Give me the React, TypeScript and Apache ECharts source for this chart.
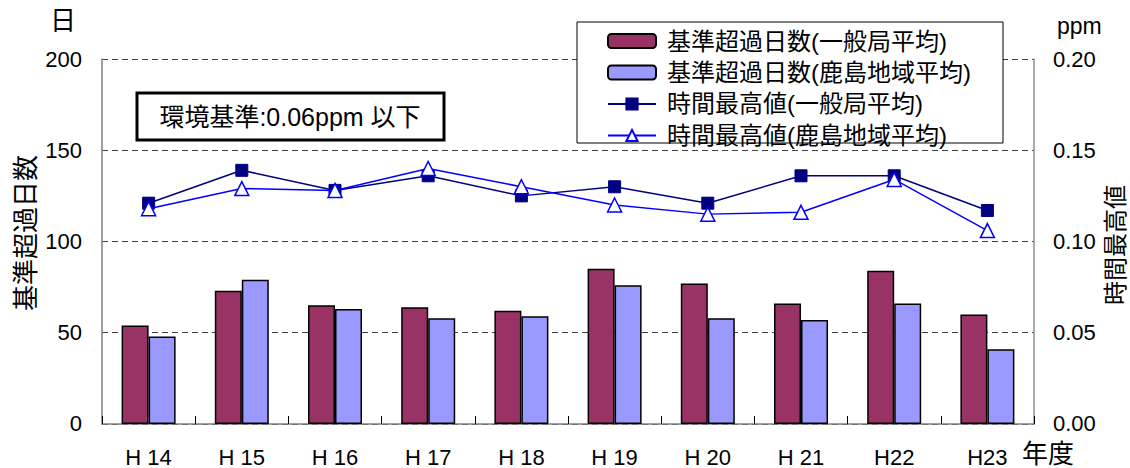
import React, { useEffect, useRef } from "react";
import * as echarts from "echarts";

const categories = ["H 14", "H 15", "H 16", "H 17", "H 18", "H 19", "H 20", "H 21", "H22", "H23"];
const daysGeneral = [54, 73, 65, 64, 62, 85, 77, 66, 84, 60];
const daysKashima = [48, 79, 63, 58, 59, 76, 58, 57, 66, 41];
const maxGeneral = [0.121, 0.139, 0.128, 0.136, 0.125, 0.130, 0.121, 0.136, 0.136, 0.117];
const maxKashima = [0.118, 0.129, 0.128, 0.140, 0.130, 0.120, 0.115, 0.116, 0.134, 0.106];
const leftTicks = { min: 0, max: 200, interval: 50 };
const rightTicks = { min: 0, max: 0.2, interval: 0.05 };

const FONT = "'Liberation Sans', 'Noto Sans CJK JP', sans-serif";

export default function App() {
  const ref = useRef<HTMLDivElement>(null);
  useEffect(() => {
    if (!ref.current) return;
    const chart = echarts.init(ref.current, undefined, { renderer: "svg" });
    chart.setOption({
      animation: false,
      textStyle: { fontFamily: FONT, color: "#000" },
      grid: { left: 102, right: 96, top: 59, bottom: 44, containLabel: false },
      legend: {
        orient: "vertical",
        left: 607,
        top: 29,
        padding: 0,
        itemWidth: 48,
        itemHeight: 14,
        itemGap: 7.5,
        z: 10,
        textStyle: { fontSize: 24, lineHeight: 22, color: "#000", fontFamily: FONT, padding: [0, 0, 0, 6] },
        data: [
          "基準超過日数(一般局平均)",
          "基準超過日数(鹿島地域平均)",
          "時間最高値(一般局平均)",
          "時間最高値(鹿島地域平均)",
        ],
      },
      xAxis: {
        type: "category",
        data: categories,
        axisLine: { show: true, lineStyle: { color: "#808080", width: 1.5 } },
        axisTick: { show: true, inside: true, length: 8, alignWithLabel: false, lineStyle: { color: "#000" } },
        axisLabel: { fontSize: 22, color: "#000", margin: 22, fontFamily: FONT },
        splitLine: { show: false },
      },
      yAxis: [
        {
          type: "value",
          min: leftTicks.min,
          max: leftTicks.max,
          interval: leftTicks.interval,
          axisLine: { show: true, lineStyle: { color: "#808080", width: 1.5 } },
          axisTick: { show: false },
          axisLabel: { fontSize: 22, color: "#000", margin: 20, fontFamily: FONT },
          splitLine: { show: true, lineStyle: { color: "#404040", type: [6, 4], width: 1 } },
        },
        {
          type: "value",
          min: rightTicks.min,
          max: rightTicks.max,
          interval: rightTicks.interval,
          axisLine: { show: true, lineStyle: { color: "#909090", width: 1.5 } },
          axisTick: { show: false },
          axisLabel: {
            fontSize: 22,
            color: "#000",
            margin: 19,
            fontFamily: FONT,
            formatter: (v: number) => v.toFixed(2),
          },
          splitLine: { show: false },
        },
      ],
      series: [
        {
          name: "基準超過日数(一般局平均)",
          type: "bar",
          data: daysGeneral,
          barWidth: 27,
          barGap: "0%",
          itemStyle: { color: "#993366", borderColor: "#000", borderWidth: 1.5 },
        },
        {
          name: "基準超過日数(鹿島地域平均)",
          type: "bar",
          data: daysKashima,
          barWidth: 27,
          barGap: "0%",
          itemStyle: { color: "#9999FF", borderColor: "#000", borderWidth: 1.5 },
        },
        {
          name: "時間最高値(一般局平均)",
          type: "line",
          yAxisIndex: 1,
          data: maxGeneral,
          symbol: "rect",
          symbolSize: 12,
          z: 5,
          lineStyle: { color: "#000080", width: 1.5 },
          itemStyle: { color: "#000080", borderColor: "#000080", borderWidth: 1 },
        },
        {
          name: "時間最高値(鹿島地域平均)",
          type: "line",
          yAxisIndex: 1,
          data: maxKashima,
          symbol: "triangle",
          symbolSize: 14,
          z: 6,
          lineStyle: { color: "#0000FF", width: 1.5 },
          itemStyle: { color: "#FFFFFF", borderColor: "#0000FF", borderWidth: 1.5 },
        },
      ],
      graphic: [
        {
          type: "rect",
          z: 3,
          shape: { x: 577, y: 22, width: 426, height: 121 },
          style: { fill: "#fff", stroke: "#000", lineWidth: 1 },
        },
        {
          type: "rect",
          z: 3,
          shape: { x: 137, y: 93, width: 307, height: 47 },
          style: { fill: "#fff", stroke: "#000", lineWidth: 3 },
        },
        {
          type: "text",
          z: 4,
          x: 290,
          y: 117,
          style: {
            text: "環境基準:0.06ppm 以下",
            fontSize: 25,
            fontFamily: FONT,
            fill: "#000",
            align: "center",
            verticalAlign: "middle",
          },
        },
        {
          type: "text",
          x: 63,
          y: 21,
          style: { text: "日", fontSize: 26, fontFamily: FONT, fill: "#000", align: "center", verticalAlign: "middle" },
        },
        {
          type: "text",
          x: 1057,
          y: 26,
          style: { text: "ppm", fontSize: 23, fontFamily: FONT, fill: "#000", align: "left", verticalAlign: "middle" },
        },
        {
          type: "text",
          x: 1022,
          y: 454,
          style: { text: "年度", fontSize: 26, fontFamily: FONT, fill: "#000", align: "left", verticalAlign: "middle" },
        },
        {
          type: "text",
          x: 26,
          y: 233,
          rotation: Math.PI / 2,
          style: { text: "基準超過日数", fontSize: 26, fontFamily: FONT, fill: "#000", align: "center", verticalAlign: "middle" },
        },
        {
          type: "text",
          x: 1115,
          y: 245,
          rotation: Math.PI / 2,
          style: { text: "時間最高値", fontSize: 24, fontFamily: FONT, fill: "#000", align: "center", verticalAlign: "middle" },
        },
      ],
    });
    return () => chart.dispose();
  }, []);
  return (
    <div
      ref={ref}
      style={{ position: "fixed", left: 0, top: 0, width: 1130, height: 468, background: "#fff" }}
    />
  );
}
